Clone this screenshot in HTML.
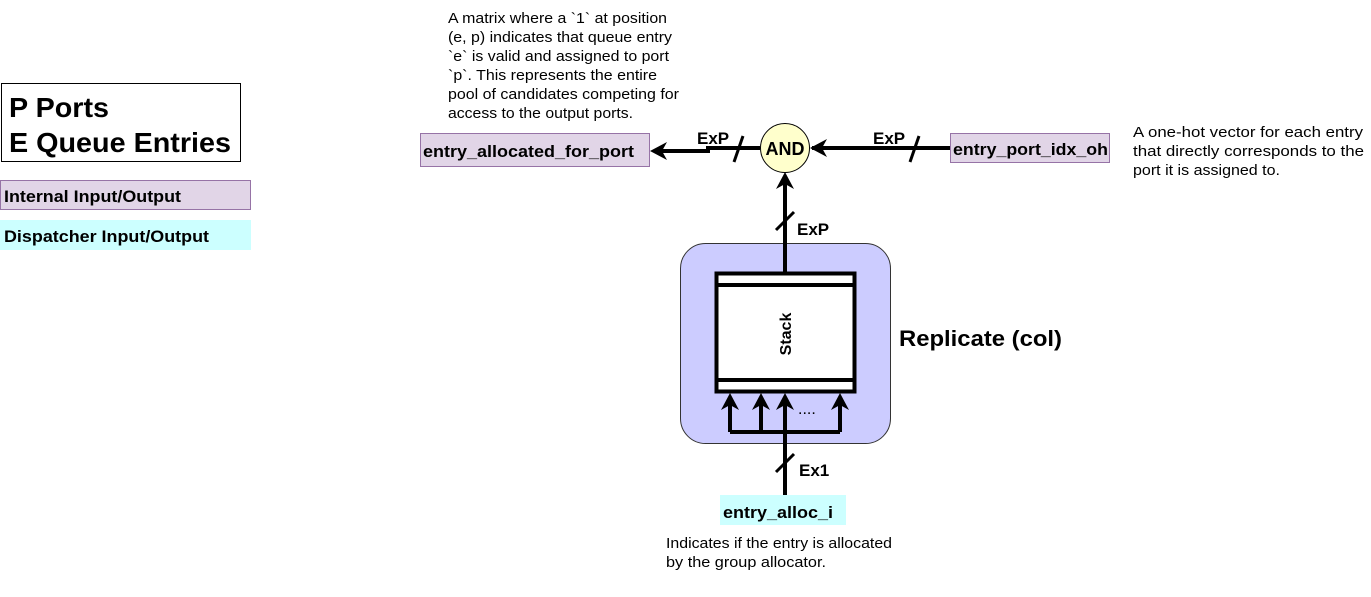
<!DOCTYPE html>
<html><head><meta charset="utf-8"><style>
body{margin:0;background:#fff;}
svg{display:block;font-family:"Liberation Sans",Arial,sans-serif;}
</style></head><body>
<svg width="1371" height="597" viewBox="0 0 1371 597" xmlns="http://www.w3.org/2000/svg">
<!-- legend -->
<rect x="1.5" y="83.5" width="239" height="78" fill="#fff" stroke="#000"/>
<text x="9" y="117" font-size="28" font-weight="bold" textLength="100" lengthAdjust="spacingAndGlyphs">P Ports</text>
<text x="9" y="152" font-size="28" font-weight="bold" textLength="222" lengthAdjust="spacingAndGlyphs">E Queue Entries</text>
<rect x="0.5" y="180.5" width="250" height="29" fill="#e1d5e7" stroke="#9673a6"/>
<text x="4" y="202" font-size="17" font-weight="bold" textLength="177" lengthAdjust="spacingAndGlyphs">Internal Input/Output</text>
<rect x="0" y="220" width="251" height="30" fill="#ccffff"/>
<text x="4" y="242" font-size="17" font-weight="bold" textLength="205" lengthAdjust="spacingAndGlyphs">Dispatcher Input/Output</text>

<!-- top text -->
<g font-size="15" fill="#000">
<text x="448" y="23" textLength="219" lengthAdjust="spacingAndGlyphs">A matrix where a `1` at position</text>
<text x="448" y="42" textLength="224" lengthAdjust="spacingAndGlyphs">(e, p) indicates that queue entry</text>
<text x="448" y="61" textLength="221" lengthAdjust="spacingAndGlyphs">`e` is valid and assigned to port</text>
<text x="448" y="80" textLength="209" lengthAdjust="spacingAndGlyphs">`p`. This represents the entire</text>
<text x="448" y="99" textLength="231" lengthAdjust="spacingAndGlyphs">pool of candidates competing for</text>
<text x="448" y="118" textLength="185" lengthAdjust="spacingAndGlyphs">access to the output ports.</text>
<text x="1133" y="137" textLength="230" lengthAdjust="spacingAndGlyphs">A one-hot vector for each entry</text>
<text x="1133" y="156" textLength="231" lengthAdjust="spacingAndGlyphs">that directly corresponds to the</text>
<text x="1133" y="175" textLength="147" lengthAdjust="spacingAndGlyphs">port it is assigned to.</text>
<text x="666" y="548" textLength="226" lengthAdjust="spacingAndGlyphs">Indicates if the entry is allocated</text>
<text x="666" y="567" textLength="160" lengthAdjust="spacingAndGlyphs">by the group allocator.</text>
</g>

<rect x="420.5" y="133.5" width="229" height="33" fill="#e1d5e7" stroke="#9673a6"/>
<text x="423" y="157" font-size="17" font-weight="bold" textLength="211" lengthAdjust="spacingAndGlyphs">entry_allocated_for_port</text>
<rect x="950.5" y="133.5" width="159" height="29" fill="#e1d5e7" stroke="#9673a6"/>
<text x="953" y="155" font-size="17" font-weight="bold" textLength="155" lengthAdjust="spacingAndGlyphs">entry_port_idx_oh</text>
<rect x="720" y="495" width="126" height="30" fill="#ccffff"/>
<text x="723" y="518" font-size="17" font-weight="bold" textLength="110" lengthAdjust="spacingAndGlyphs">entry_alloc_i</text>

<!-- replicate box -->
<rect x="680.5" y="243.5" width="210" height="200" rx="25" fill="#ccccff" stroke="#333"/>
<rect x="716.5" y="273.5" width="138" height="118" fill="#fff" stroke="#000" stroke-width="4"/>
<line x1="716" y1="285" x2="855" y2="285" stroke="#000" stroke-width="4"/>
<line x1="716" y1="380" x2="855" y2="380" stroke="#000" stroke-width="4"/>
<text transform="translate(791,334) rotate(-90)" text-anchor="middle" font-size="16" font-weight="bold">Stack</text>
<text x="899" y="346" font-size="22" font-weight="bold" textLength="163" lengthAdjust="spacingAndGlyphs">Replicate (col)</text>

<!-- wires -->
<g stroke="#000" stroke-width="4" fill="none">
<path d="M950,148 L812,148"/>
<path d="M760,148 L708,148 L708,151 L660,151"/>
<path d="M785,272 L785,180"/>
<path d="M785,495 L785,404"/>
<path d="M730,432 L840,432"/>
<path d="M730,432 L730,404"/>
<path d="M761,432 L761,404"/>
<path d="M840,432 L840,404"/>
</g>
<g stroke="#000" stroke-width="3">
<line x1="734" y1="162" x2="743" y2="136"/>
<line x1="910" y1="162" x2="919" y2="136"/>
<line x1="776" y1="230" x2="794" y2="212"/>
<line x1="776" y1="472" x2="794" y2="454"/>
</g>
<!-- arrowheads -->
<g fill="#000">
<path d="M650,151 L667,142 L662,151 L667,160 Z"/>
<path d="M810,148 L827,139 L822,148 L827,157 Z"/>
<path d="M785,172 L794,189 L785,184 L776,189 Z"/>
<path d="M730,393 L739,410 L730,405 L721,410 Z"/>
<path d="M761,393 L770,410 L761,405 L752,410 Z"/>
<path d="M785,393 L794,410 L785,405 L776,410 Z"/>
<path d="M840,393 L849,410 L840,405 L831,410 Z"/>
</g>
<text x="798" y="414" font-size="16">....</text>

<circle cx="785" cy="148" r="24.5" fill="#ffffcc" stroke="#000" stroke-width="1"/>
<text x="785" y="155" text-anchor="middle" font-size="18" font-weight="bold">AND</text>

<g font-size="17" font-weight="bold">
<text x="697" y="144">ExP</text>
<text x="873" y="144">ExP</text>
<text x="797" y="235">ExP</text>
<text x="799" y="476">Ex1</text>
</g>
</svg>
</body></html>
